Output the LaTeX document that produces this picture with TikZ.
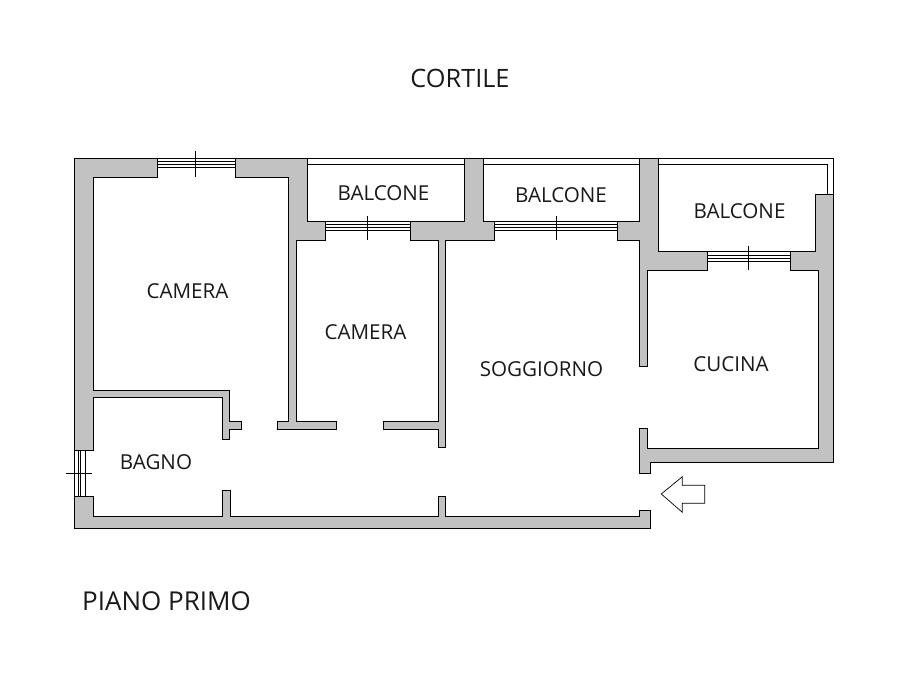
\documentclass[tikz,border=0pt]{standalone}
\usepackage{fontspec}
\setmainfont{Open Sans}
\usepackage{tikz}
\definecolor{wallgray}{RGB}{194,194,194}
\tikzset{
  wall/.style={draw=black,fill=wallgray,line width=0.9pt,line join=miter},
  thinline/.style={black,line width=0.9pt},
  room/.style={inner sep=0pt,font=\fontsize{20.6}{24}\selectfont,text=black!90}
}

\begin{document}
\begin{tikzpicture}[x=1pt,y=-1pt]
\useasboundingbox[fill=white] (0,0) rectangle (909,674);
% Windows (x from, x to, sill y, tick x, tick top, tick bottom)
\foreach \xa/\xb/\ya/\tx/\ta/\tb in {157.3/235.3/158.3/195.3/151/177.3, 325.3/410/221.3/367.3/216/240.3,
    494.3/617.3/221.3/556/216/240.3, 707.3/790.3/251.7/748.3/246/270.3}{
  \foreach \dy in {0,3.5,6.3,9.6}
    \draw[thinline] (\xa,\ya+\dy) -- (\xb,\ya+\dy);
  \draw[thinline] (\tx,\ta) -- (\tx,\tb);
}
% Window of the bathroom
\foreach \dx in {0,4,6.4,11}
  \draw[thinline] (74.3+\dx,450) -- (74.3+\dx,496.3);
\draw[thinline] (66,473.3) -- (91.7,473.3);
% Balcony railings
\draw[thinline] (307.3,158.3) -- (464.3,158.3) (307.3,164.3) -- (464.3,164.3);
\draw[thinline] (483.3,158.3) -- (639.5,158.3) (483.3,164.3) -- (639.5,164.3);
\draw[thinline] (658.3,158.3) -- (833.3,158.3) -- (833.3,194.3);
\draw[thinline] (658.3,164.3) -- (827.3,164.3) -- (827.3,194.3);
% Walls
\draw[wall] (74.3,450) -- (74.3,158.3) -- (157.3,158.3) -- (157.3,177.3) -- (93.3,177.3)
  -- (93.3,390) -- (229.3,390) -- (229.3,421) -- (241.7,421) -- (241.7,429.7) -- (229.3,429.7)
  -- (229.3,439.3) -- (222.3,439.3) -- (222.3,397.3) -- (93.3,397.3) -- (93.3,450) -- cycle;
\draw[wall] (235.3,158.3) -- (307.3,158.3) -- (307.3,221.3) -- (325.3,221.3) -- (325.3,240.3)
  -- (296.5,240.3) -- (296.5,421.3) -- (336.7,421.3) -- (336.7,429.3) -- (277.3,429.3)
  -- (277.3,421.3) -- (288.5,421.3) -- (288.5,177.3) -- (235.3,177.3) -- cycle;
\draw[wall] (410,221.3) -- (464.3,221.3) -- (464.3,158.3) -- (483.3,158.3) -- (483.3,221.3)
  -- (494.3,221.3) -- (494.3,240.3) -- (445.7,240.3) -- (445.7,447.3) -- (438.3,447.3)
  -- (438.3,429.3) -- (383.3,429.3) -- (383.3,421.3) -- (438.3,421.3) -- (438.3,240.3)
  -- (410,240.3) -- cycle;
\draw[wall] (617.3,221.3) -- (639.5,221.3) -- (639.5,158.3) -- (658.3,158.3) -- (658.3,251.7)
  -- (707.3,251.7) -- (707.3,270.3) -- (647.3,270.3) -- (647.3,366) -- (639.5,366)
  -- (639.5,240.3) -- (617.3,240.3) -- cycle;
\draw[wall] (790.3,251.7) -- (815.7,251.7) -- (815.7,194.3) -- (833.3,194.3) -- (833.3,462.3)
  -- (650.7,462.3) -- (650.7,473.3) -- (639.5,473.3) -- (639.5,428.3) -- (647.3,428.3)
  -- (647.3,448.3) -- (818.7,448.3) -- (818.7,270.3) -- (790.3,270.3) -- cycle;
\draw[wall] (74.3,496.3) -- (93.3,496.3) -- (93.3,516.5) -- (222.3,516.5) -- (222.3,490.3)
  -- (230.7,490.3) -- (230.7,516.5) -- (438.3,516.5) -- (438.3,496.7) -- (445.7,496.7)
  -- (445.7,516.5) -- (639.5,516.5) -- (639.5,510.3) -- (650.7,510.3) -- (650.7,528.3)
  -- (74.3,528.3) -- cycle;
% Entrance arrow
\draw[black,line width=0.7pt] (661.3,494) -- (682.3,476.7) -- (682.3,485.3) -- (704.7,485.3)
  -- (704.7,503.3) -- (682.3,503.3) -- (682.3,512.3) -- cycle;
% Labels
\node[room,font=\fontsize{25.3}{29}\selectfont] (cortile) at (460,78.5) {CORTILE};
\node[room] (balconeA) at (383.5,193) {BALCONE};
\node[room] (balconeB) at (561,195) {BALCONE};
\node[room] (balconeC) at (739.5,211) {BALCONE};
\node[room] (cameraA) at (187.5,291) {CAMERA};
\node[room] (cameraB) at (365.5,332) {CAMERA};
\node[room] (soggiorno) at (541.5,369) {SOGGIORNO};
\node[room] (cucina) at (731,364) {CUCINA};
\node[room] (bagno) at (156,462) {BAGNO};
\node[room,font=\fontsize{26}{30}\selectfont] (piano) at (166.5,601) {PIANO PRIMO};
\end{tikzpicture}
\end{document}
